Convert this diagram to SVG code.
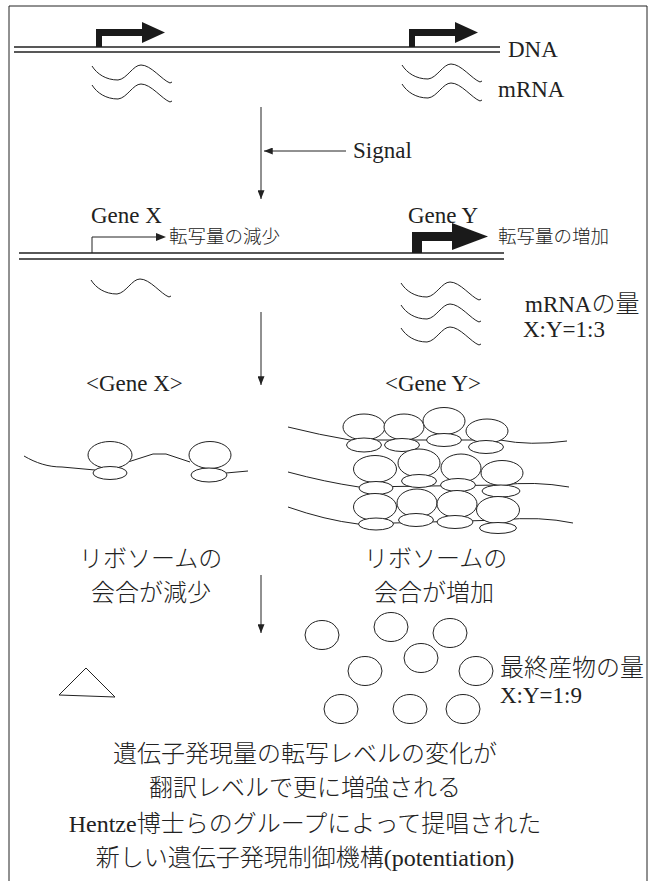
<svg xmlns="http://www.w3.org/2000/svg" xmlns:xlink="http://www.w3.org/1999/xlink" width="653" height="881" viewBox="0 0 653 881">
  <style>
    .ln { fill: none; stroke: #222; stroke-width: 1; }
    .dna { fill: none; stroke: #222; stroke-width: 1.3; }
    .rb { fill: #fff; stroke: #222; stroke-width: 1; }
    .lat { font-family: "Liberation Serif", "Times New Roman", serif; font-size: 23px; fill: #222; }
    .jp { font-family: "Noto Sans CJK JP", sans-serif; font-weight: 300; fill: #222; }
    .rm { font-family: "Liberation Serif", "Times New Roman", serif; font-weight: 400; }
    .j18 { font-size: 18.5px; }
    .j24 { font-size: 24px; }
    .mid { text-anchor: middle; }
  </style>
  <defs>
    <marker id="ah" viewBox="0 0 10 8" refX="10" refY="4" markerWidth="9" markerHeight="7" markerUnits="userSpaceOnUse" orient="auto">
      <path d="M0,0 L10,4 L0,8 Z" fill="#222"/>
    </marker>
    <!-- one mRNA strand, drawn from its left end -->
    <path id="wave" d="M0,0 C5,8 14,14 26,14 C35,13 41,-1 49,-1 C59,-1 70,14 78,17 L80,16"/>
  </defs>

  <rect width="653" height="881" fill="#fff"/>

  <!-- frame, open at the bottom -->
  <path class="ln" d="M9,881 L9,6 L647,6 L647,881" stroke="#444"/>

  <!-- upper DNA with two active promoters -->
  <g id="dna-top">
    <path class="dna" d="M14,47 L500,47 M14,52 L500,52"/>
    <path d="M96,47 L96,29 L144,29 L144,36 L102,36 L102,47 Z" fill="#1a1a1a"/>
    <path d="M142,22 L165,32.5 L142,43 Z" fill="#1a1a1a"/>
    <path d="M409,47 L409,29 L457,29 L457,36 L415,36 L415,47 Z" fill="#1a1a1a"/>
    <path d="M455,22 L478,32.5 L455,43 Z" fill="#1a1a1a"/>
    <text class="lat" x="508" y="57">DNA</text>
  </g>

  <g id="mrna-top">
    <use href="#wave" xlink:href="#wave" class="ln" x="92" y="66"/>
    <use href="#wave" xlink:href="#wave" class="ln" x="92" y="85"/>
    <use href="#wave" xlink:href="#wave" class="ln" x="402" y="65"/>
    <use href="#wave" xlink:href="#wave" class="ln" x="402" y="84"/>
    <text class="lat" x="498" y="97">mRNA</text>
  </g>

  <g id="signal">
    <text class="lat" x="353" y="158">Signal</text>
  </g>

  <!-- lower DNA: Gene X weak, Gene Y strong promoter -->
  <g id="dna-bottom">
    <path class="dna" d="M19,253 L504,253 M19,259 L504,259"/>
    <text class="lat" x="91" y="223">Gene X</text>
    <text class="lat" x="408" y="223">Gene Y</text>
    <path class="ln" d="M92,253 L92,237 L157,237"/>
    <path d="M156,233 L166,237 L156,241 Z" fill="#222"/>
    <text class="jp j18" x="169" y="243">転写量の減少</text>
    <path d="M412,253 L412,232 L454,232 L454,241 L422,241 L422,253 Z" fill="#1a1a1a"/>
    <path d="M452,223 L488,236.5 L452,250 Z" fill="#1a1a1a"/>
    <text class="jp j18" x="498" y="243">転写量の増加</text>
  </g>

  <g id="mrna-bottom">
    <use href="#wave" xlink:href="#wave" class="ln" x="91" y="280"/>
    <use href="#wave" xlink:href="#wave" class="ln" x="401" y="283"/>
    <use href="#wave" xlink:href="#wave" class="ln" x="401" y="305"/>
    <use href="#wave" xlink:href="#wave" class="ln" x="401" y="328"/>
    <text class="jp j24" x="525" y="312"><tspan class="rm" font-size="23">mRNA</tspan>の量</text>
    <text class="lat" x="523" y="337">X:Y=1:3</text>
  </g>

  <!-- Gene X: two ribosomes on one strand -->
  <g id="ribo-x">
    <text class="lat" x="86" y="391">&lt;Gene X&gt;</text>
    <path class="ln" d="M24,456 C36,463 48,467 62,467 L95,470 M128,462 L153,454 L166,454 L190,462 M226,473 L248,471"/>
    <ellipse class="rb" cx="110" cy="455" rx="22" ry="13.5"/>
    <ellipse class="rb" cx="110" cy="473" rx="17" ry="6.5"/>
    <ellipse class="rb" cx="210" cy="455" rx="21" ry="13.5"/>
    <ellipse class="rb" cx="209" cy="475" rx="18" ry="7"/>
    <text class="jp j24" x="79" y="567">リボソームの</text>
    <text class="jp j24" x="91" y="601">会合が減少</text>
  </g>

  <!-- Gene Y: three strands crowded with ribosomes -->
  <g id="ribo-y">
    <text class="lat" x="385" y="391">&lt;Gene Y&gt;</text>
    <path class="ln" d="M288,427 Q320,435 350,440 L500,440 Q530,446 567,441"/>
    <ellipse class="rb" cx="364" cy="427" rx="21" ry="13"/>
    <ellipse class="rb" cx="404" cy="427" rx="20" ry="13"/>
    <ellipse class="rb" cx="444" cy="421" rx="21" ry="13.5"/>
    <ellipse class="rb" cx="487" cy="431" rx="21" ry="12"/>
    <ellipse class="rb" cx="364" cy="445" rx="17.5" ry="7"/>
    <ellipse class="rb" cx="402" cy="445" rx="17.5" ry="6.5"/>
    <ellipse class="rb" cx="444" cy="440" rx="17.5" ry="6.5"/>
    <ellipse class="rb" cx="486" cy="447" rx="17.5" ry="6.5"/>

    <path class="ln" d="M288,472 Q325,482 359,487 L500,485 Q535,481 569,487"/>
    <ellipse class="rb" cx="375" cy="469" rx="21.5" ry="13.5"/>
    <ellipse class="rb" cx="419" cy="463" rx="21" ry="14"/>
    <ellipse class="rb" cx="461" cy="468" rx="20" ry="14"/>
    <ellipse class="rb" cx="502" cy="473" rx="21" ry="12.5"/>
    <ellipse class="rb" cx="376" cy="488" rx="17" ry="6.5"/>
    <ellipse class="rb" cx="419" cy="481" rx="17.5" ry="6.5"/>
    <ellipse class="rb" cx="458" cy="485" rx="17.5" ry="6.5"/>
    <ellipse class="rb" cx="501" cy="491" rx="19" ry="6"/>

    <path class="ln" d="M288,507 Q325,520 358,524 L500,520 Q540,516 573,523"/>
    <ellipse class="rb" cx="375" cy="507" rx="21.5" ry="13.5"/>
    <ellipse class="rb" cx="417" cy="503" rx="20" ry="14"/>
    <ellipse class="rb" cx="457" cy="504" rx="20" ry="13.5"/>
    <ellipse class="rb" cx="498" cy="510" rx="21.5" ry="13.5"/>
    <ellipse class="rb" cx="376" cy="524" rx="17.5" ry="6"/>
    <ellipse class="rb" cx="416" cy="520" rx="17.5" ry="6.5"/>
    <ellipse class="rb" cx="455" cy="522" rx="18" ry="6.5"/>
    <ellipse class="rb" cx="498" cy="528" rx="18.5" ry="5.5"/>
    <text class="jp j24" x="364" y="567">リボソームの</text>
    <text class="jp j24" x="374" y="601">会合が増加</text>
  </g>

  <!-- final products -->
  <g id="product-x">
    <path class="ln" d="M59,695 L86,668 L115,697 Z"/>
  </g>
  <g id="product-y">
    <ellipse class="rb" cx="322" cy="635" rx="17" ry="14.5"/>
    <ellipse class="rb" cx="391" cy="627" rx="17" ry="14.5"/>
    <ellipse class="rb" cx="450" cy="633" rx="17" ry="14.5"/>
    <ellipse class="rb" cx="421" cy="658" rx="17" ry="14.5"/>
    <ellipse class="rb" cx="365" cy="671" rx="17" ry="14.5"/>
    <ellipse class="rb" cx="476" cy="671" rx="17" ry="14.5"/>
    <ellipse class="rb" cx="341" cy="709" rx="17" ry="14.5"/>
    <ellipse class="rb" cx="410" cy="709" rx="17" ry="14.5"/>
    <ellipse class="rb" cx="463" cy="709" rx="17" ry="14.5"/>
    <text class="jp j24" x="500" y="676">最終産物の量</text>
    <text class="lat" x="500" y="703">X:Y=1:9</text>
  </g>

  <g id="summary">
    <text class="jp j24 mid" x="305" y="762">遺伝子発現量の転写レベルの変化が</text>
    <text class="jp j24 mid" x="305" y="796">翻訳レベルで更に増強される</text>
    <text class="jp j24 mid" x="305" y="832"><tspan class="rm">Hentze</tspan>博士らのグループによって提唱された</text>
    <text class="jp j24 mid" x="305" y="866">新しい遺伝子発現制御機構<tspan class="rm">(potentiation)</tspan></text>
  </g>

  <!-- connectors -->
  <g id="connectors" class="ln">
    <path d="M261,107 L261,199" marker-end="url(#ah)"/>
    <path d="M346,151 L264,151" marker-end="url(#ah)"/>
    <path d="M261,312 L261,385" marker-end="url(#ah)"/>
    <path d="M261,575 L261,633" marker-end="url(#ah)"/>
  </g>
</svg>
